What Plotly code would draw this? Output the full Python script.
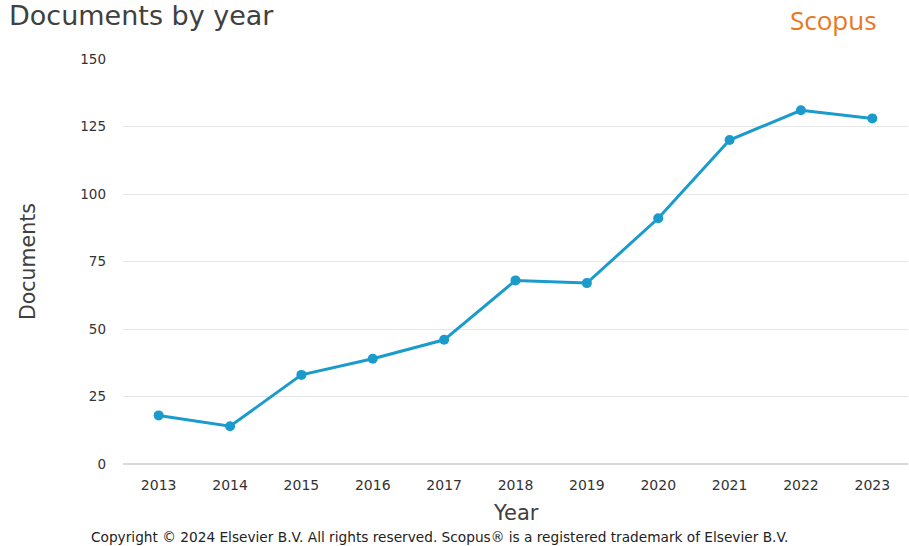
import plotly.graph_objects as go

years = ["2013", "2014", "2015", "2016", "2017", "2018", "2019", "2020", "2021", "2022", "2023"]
documents = [18, 14, 33, 39, 46, 68, 67, 91, 120, 131, 128]
y_ticks = [0, 25, 50, 75, 100, 125, 150]

FONT = "DejaVu Sans"
W, H = 909, 546
l, r, t, b = 123, 1, 59, 546 - 464
pw, ph = W - l - r, H - t - b

def px(x):
    return (x - l) / pw

def py(y):
    return 1 - (y - t) / ph

fig = go.Figure()
fig.add_trace(go.Scatter(
    x=years, y=documents, mode="lines+markers",
    line=dict(color="#1a9bcc", width=3),
    marker=dict(color="#1a9bcc", size=10),
    cliponaxis=False, showlegend=False,
))

fig.update_layout(
    width=W, height=H,
    margin=dict(l=l, r=r, t=t, b=b),
    paper_bgcolor="white", plot_bgcolor="white",
    font=dict(family=FONT, color="#333333", size=13),
    xaxis=dict(
        type="category", range=[-0.5, 10.5], showgrid=False,
        zeroline=False, showline=False,
        ticks="", ticklabelstandoff=11,
        tickfont=dict(size=14, color="#333333"),
    ),
    yaxis=dict(
        range=[0, 150], tickvals=y_ticks, showgrid=True,
        gridcolor="#e6e6e6", gridwidth=1, zeroline=True,
        zerolinecolor="#d8d8d8", zerolinewidth=2, showline=False,
        ticks="", ticklabelstandoff=16,
        tickfont=dict(size=13.5, color="#333333"),
    ),
    annotations=[
        dict(text="Documents by year", x=px(7), y=py(16), xref="paper", yref="paper",
             showarrow=False, xanchor="left", yanchor="middle",
             font=dict(size=27, color="#404040", family=FONT)),
        dict(text="Scopus", x=px(879), y=py(20), xref="paper", yref="paper",
             showarrow=False, xanchor="right", yanchor="middle",
             font=dict(size=26, color="#e87722", family="Open Sans")),
        dict(text="Documents", x=px(28), y=py(262), xref="paper", yref="paper",
             showarrow=False, textangle=-90, xanchor="center", yanchor="middle",
             font=dict(size=20.5, color="#404040", family=FONT)),
        dict(text="Year", x=px(516), y=py(513), xref="paper", yref="paper",
             showarrow=False, xanchor="center", yanchor="middle",
             font=dict(size=21, color="#404040", family=FONT)),
        dict(text="Copyright © 2024 Elsevier B.V. All rights reserved. Scopus® is a registered trademark of Elsevier B.V.",
             x=px(439), y=py(537), xref="paper", yref="paper",
             showarrow=False, xanchor="center", yanchor="middle",
             font=dict(size=13.7, color="#222222", family=FONT)),
    ],
)

fig.write_html("out.html", config={"displayModeBar": False},
               post_script="document.body.style.margin='0';document.body.style.overflow='hidden';")
